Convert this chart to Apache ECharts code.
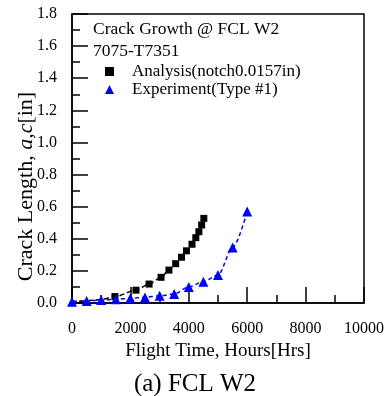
<!DOCTYPE html>
<html>
<head>
<meta charset="utf-8">
<script src="https://cdn.jsdelivr.net/npm/echarts@6/dist/echarts.min.js"></script>
<style>
  html, body { margin: 0; padding: 0; background: #fff; }
  #chart { width: 390px; height: 396px; }
</style>
</head>
<body>
<div id="chart"></div>
<script>
// values
const analysisHours = [0, 500, 1000, 1470, 2190, 2640, 3050, 3320, 3550, 3750, 3920, 4110, 4240, 4345, 4440, 4515]
const analysisLength = [0.009, 0.013, 0.022, 0.04, 0.08, 0.118, 0.16, 0.205, 0.245, 0.285, 0.325, 0.366, 0.407, 0.444, 0.486, 0.527]
const analysisUnmarked = 3 // first points sit under the triangles, only the dashed curve shows

const expHours = [0, 500, 1000, 1500, 2000, 2500, 3000, 3500, 4000, 4500, 5000, 5500, 6000]
const expLength = [0.008, 0.013, 0.018, 0.023, 0.029, 0.035, 0.045, 0.056, 0.1, 0.133, 0.174, 0.345, 0.57]

const serif = 'Liberation Serif'

const chart = echarts.init(document.getElementById('chart'))
chart.setOption({
  animation: false,
  title: [
    {
      text: '(a) FCL W2',
      left: 'center',
      top: 367,
      textStyle: { fontFamily: serif, fontSize: 25, fontWeight: 'normal', color: '#000' }
    },
    {
      text: 'Crack Growth @ FCL W2',
      left: 93,
      top: 20,
      padding: 0,
      textStyle: { fontFamily: serif, fontSize: 17.5, fontWeight: 'normal', color: '#000' }
    },
    {
      text: '7075-T7351',
      left: 93,
      top: 42,
      padding: 0,
      textStyle: { fontFamily: serif, fontSize: 17.5, fontWeight: 'normal', color: '#000' }
    }
  ],
  legend: {
    orient: 'vertical',
    left: 105,
    top: 63,
    padding: 0,
    itemGap: 1,
    itemWidth: 9,
    itemHeight: 9,
    textStyle: { fontFamily: serif, fontSize: 17, color: '#000', padding: [0, 0, 0, 13] },
    data: [
      { name: 'Analysis(notch0.0157in)', icon: 'rect' },
      { name: 'Experiment(Type #1)', icon: 'triangle' }
    ]
  },
  grid: {
    left: 72,
    right: 26,
    top: 14,
    bottom: 93,
    outerBoundsMode: 'none',
    show: true,
    borderColor: '#000',
    borderWidth: 1.5
  },
  xAxis: {
    type: 'value',
    min: 0,
    max: 10000,
    interval: 2000,
    name: 'Flight Time, Hours[Hrs]',
    nameLocation: 'middle',
    nameGap: 37,
    nameTextStyle: { fontFamily: serif, fontSize: 19, color: '#000' },
    axisLine: { lineStyle: { color: '#000', width: 1.5 } },
    axisTick: { inside: true, length: 16, lineStyle: { color: '#000', width: 1.5 } },
    minorTick: { show: true, splitNumber: 2, length: 8, lineStyle: { color: '#000', width: 1.5 } },
    splitLine: { show: false },
    axisLabel: {
      margin: 18,
      fontFamily: serif,
      fontSize: 16,
      color: '#000',
      formatter: v => String(v)
    }
  },
  yAxis: {
    type: 'value',
    min: 0,
    max: 1.8,
    interval: 0.2,
    name: 'Crack Length, {i|a,c}[in]',
    nameLocation: 'middle',
    nameGap: 35,
    nameMoveOverlap: false,
    nameTextStyle: {
      fontFamily: serif,
      fontSize: 22,
      color: '#000',
      padding: [0, 56, 0, 0],
      rich: { i: { fontFamily: serif, fontSize: 22, fontStyle: 'italic', color: '#000' } }
    },
    axisLine: { lineStyle: { color: '#000', width: 1.5 } },
    axisTick: { inside: true, length: 16, lineStyle: { color: '#000', width: 1.5 } },
    minorTick: { show: true, splitNumber: 2, length: 8, lineStyle: { color: '#000', width: 1.5 } },
    splitLine: { show: false },
    axisLabel: {
      margin: 15,
      fontFamily: serif,
      fontSize: 16,
      color: '#000',
      formatter: v => v.toFixed(1)
    }
  },
  series: [
    {
      name: 'Analysis(notch0.0157in)',
      type: 'line',
      smooth: 0.3,
      smoothMonotone: 'x',
      symbol: 'rect',
      symbolSize: 7,
      itemStyle: { color: '#000' },
      lineStyle: { color: '#000', width: 1.5, type: [5, 3] },
      data: analysisHours.map((h, i) => {
        const v = [h, analysisLength[i]]
        return i < analysisUnmarked ? { value: v, symbol: 'none' } : v
      })
    },
    {
      name: 'Experiment(Type #1)',
      type: 'line',
      smooth: 0.3,
      smoothMonotone: 'x',
      symbol: 'triangle',
      symbolSize: 10,
      itemStyle: { color: '#0000ff' },
      lineStyle: { color: '#0000ff', width: 1.5, type: [4, 3] },
      data: expHours.map((h, i) => [h, expLength[i]])
    }
  ]
})
</script>
</body>
</html>
